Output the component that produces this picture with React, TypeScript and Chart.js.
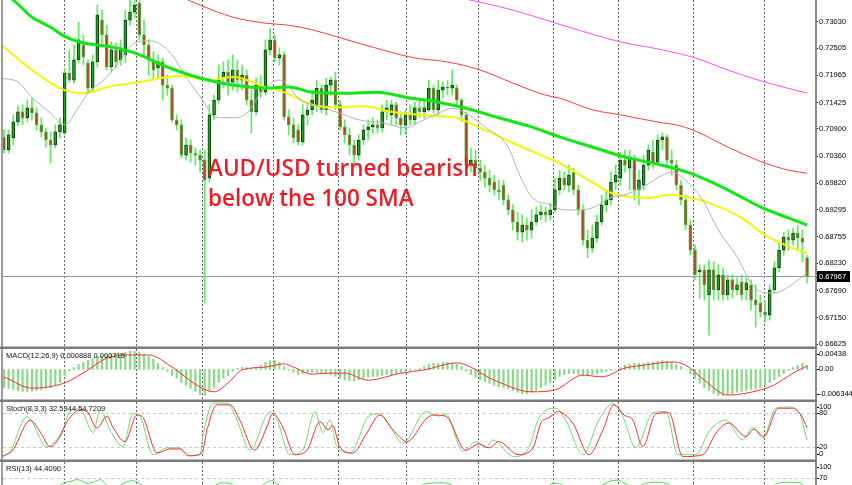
import React, { useEffect, useRef } from 'react';
import { Chart, registerables } from 'chart.js';

Chart.register(...registerables);

// ---------------- DATA ----------------
const opens = [
  0.7074,0.7048,0.7072,0.7104,0.7124,0.7112,0.7132,0.7122,0.7098,0.7084,
  0.7068,0.7058,0.7084,0.7082,0.7201,0.7187,0.7227,0.7257,0.7221,0.7171,
  0.7223,0.7306,0.7277,0.7213,0.7247,0.7227,0.7237,0.7306,0.7322,0.7340,
  0.7277,0.7257,0.7227,0.7211,0.7223,0.7177,0.7171,0.7108,0.7098,0.7038,
  0.7058,0.7042,0.7038,0.7028,0.6992,0.7118,0.7147,0.7191,0.7203,0.7183,
  0.7207,0.7187,0.7197,0.7147,0.7124,0.7177,0.7163,0.7247,0.7267,0.7231,
  0.7237,0.7114,0.7098,0.7088,0.7064,0.7118,0.7128,0.7138,0.7171,0.7128,
  0.7177,0.7187,0.7138,0.7094,0.7078,0.7058,0.7038,0.7068,0.7088,0.7094,
  0.7098,0.7092,0.7124,0.7118,0.7138,0.7112,0.7098,0.7118,0.7108,0.7132,
  0.7124,0.7128,0.7171,0.7128,0.7167,0.7173,0.7171,0.7171,0.7147,0.7118,
  0.7018,0.7028,0.7012,0.7004,0.6992,0.6984,0.6969,0.6978,0.6949,0.6929,
  0.6905,0.6885,0.6899,0.6889,0.6905,0.6919,0.6925,0.6919,0.6929,0.6969,
  0.6992,0.6978,0.7004,0.6969,0.6929,0.6869,0.6853,0.6873,0.6905,0.6939,
  0.6949,0.6984,0.6992,0.7028,0.7012,0.7028,0.6969,0.6978,0.7018,0.7044,
  0.7024,0.7068,0.7074,0.7028,0.7018,0.6978,0.6949,0.6899,0.6849,0.6806,
  0.6810,0.6760,0.6810,0.6770,0.6800,0.6760,0.6790,0.6770,0.6786,0.6770,
  0.6780,0.6750,0.6744,0.6726,0.6720,0.6770,0.6814,0.6849,0.6875,0.6869,
  0.6883,0.6873,0.6834,
];
const closes = [
  0.7048,0.7078,0.7104,0.7124,0.7112,0.7132,0.7122,0.7098,0.7084,0.7068,
  0.7058,0.7084,0.7098,0.7201,0.7187,0.7227,0.7267,0.7233,0.7171,0.7223,
  0.7316,0.7277,0.7213,0.7247,0.7223,0.7251,0.7306,0.7322,0.7336,0.7277,
  0.7257,0.7227,0.7207,0.7223,0.7177,0.7171,0.7108,0.7098,0.7038,0.7058,
  0.7042,0.7038,0.7028,0.6988,0.7118,0.7147,0.7191,0.7203,0.7183,0.7207,
  0.7187,0.7197,0.7147,0.7124,0.7177,0.7163,0.7247,0.7267,0.7231,0.7237,
  0.7114,0.7098,0.7072,0.7064,0.7118,0.7128,0.7147,0.7171,0.7128,0.7177,
  0.7187,0.7138,0.7094,0.7078,0.7058,0.7038,0.7068,0.7088,0.7094,0.7098,
  0.7092,0.7124,0.7132,0.7138,0.7112,0.7098,0.7118,0.7108,0.7132,0.7124,
  0.7132,0.7171,0.7128,0.7167,0.7173,0.7171,0.7177,0.7147,0.7118,0.7018,
  0.7028,0.7012,0.7004,0.6992,0.6978,0.6969,0.6965,0.6949,0.6929,0.6905,
  0.6885,0.6899,0.6889,0.6905,0.6919,0.6925,0.6919,0.6929,0.6969,0.6992,
  0.6978,0.6998,0.6969,0.6929,0.6869,0.6853,0.6873,0.6905,0.6939,0.6949,
  0.6984,0.6998,0.7028,0.7018,0.7032,0.6969,0.6988,0.7018,0.7048,0.7024,
  0.7068,0.7074,0.7028,0.7022,0.6978,0.6949,0.6899,0.6849,0.6800,0.6810,
  0.6780,0.6810,0.6770,0.6800,0.6760,0.6790,0.6770,0.6780,0.6760,0.6784,
  0.6750,0.6740,0.6726,0.6720,0.6770,0.6814,0.6849,0.6875,0.6869,0.6883,
  0.6873,0.6865,0.67967,
];
const highs = [
  0.7088,0.7088,0.7118,0.7136,0.7138,0.7147,0.7151,0.7132,0.7112,0.7092,
  0.7084,0.7098,0.7112,0.7211,0.7247,0.7257,0.7302,0.7277,0.7227,0.7237,
  0.7336,0.7326,0.7296,0.7263,0.7261,0.7267,0.7326,0.7346,0.7356,0.7352,
  0.7306,0.7267,0.7243,0.7237,0.7231,0.7197,0.7177,0.7118,0.7108,0.7072,
  0.7068,0.7052,0.7048,0.7048,0.7138,0.7157,0.7217,0.7223,0.7227,0.7237,
  0.7227,0.7217,0.7207,0.7167,0.7191,0.7197,0.7267,0.7290,0.7277,0.7251,
  0.7243,0.7128,0.7112,0.7098,0.7138,0.7138,0.7167,0.7187,0.7177,0.7191,
  0.7193,0.7203,0.7147,0.7108,0.7092,0.7068,0.7078,0.7098,0.7108,0.7112,
  0.7108,0.7138,0.7147,0.7147,0.7143,0.7124,0.7128,0.7138,0.7143,0.7147,
  0.7147,0.7187,0.7177,0.7187,0.7183,0.7187,0.7207,0.7177,0.7151,0.7124,
  0.7052,0.7048,0.7028,0.7018,0.7008,0.6998,0.6988,0.6988,0.6959,0.6939,
  0.6925,0.6919,0.6913,0.6929,0.6935,0.6939,0.6935,0.6943,0.6992,0.7008,
  0.7004,0.7018,0.7012,0.6978,0.6939,0.6889,0.6899,0.6919,0.6959,0.6969,
  0.7004,0.7018,0.7044,0.7048,0.7048,0.7038,0.7008,0.7038,0.7058,0.7068,
  0.7078,0.7082,0.7078,0.7048,0.7028,0.6988,0.6959,0.6909,0.6859,0.6820,
  0.6820,0.6830,0.6826,0.6820,0.6814,0.6800,0.6800,0.6794,0.6800,0.6794,
  0.6790,0.6780,0.6760,0.6750,0.6780,0.6826,0.6865,0.6885,0.6889,0.6893,
  0.6899,0.6889,0.6839,
];
const lows = [
  0.7042,0.7042,0.7058,0.7096,0.7098,0.7104,0.7108,0.7088,0.7074,0.7054,
  0.7022,0.7052,0.7072,0.7078,0.7183,0.7181,0.7221,0.7217,0.7163,0.7163,
  0.7213,0.7257,0.7207,0.7203,0.7211,0.7217,0.7221,0.7296,0.7310,0.7267,
  0.7237,0.7197,0.7187,0.7191,0.7147,0.7157,0.7104,0.7088,0.7032,0.7028,
  0.7024,0.7018,0.7004,0.6744,0.6984,0.7108,0.7141,0.7171,0.7157,0.7167,
  0.7163,0.7167,0.7138,0.7082,0.7118,0.7153,0.7157,0.7237,0.7223,0.7217,
  0.7108,0.7078,0.7062,0.7058,0.7058,0.7098,0.7118,0.7124,0.7122,0.7118,
  0.7157,0.7128,0.7088,0.7062,0.7038,0.7018,0.7028,0.7058,0.7068,0.7082,
  0.7082,0.7084,0.7108,0.7098,0.7098,0.7078,0.7078,0.7098,0.7098,0.7112,
  0.7112,0.7124,0.7122,0.7118,0.7151,0.7157,0.7157,0.7138,0.7104,0.6998,
  0.7004,0.6998,0.6988,0.6974,0.6965,0.6959,0.6949,0.6939,0.6919,0.6889,
  0.6869,0.6865,0.6869,0.6873,0.6899,0.6909,0.6905,0.6909,0.6925,0.6959,
  0.6969,0.6965,0.6959,0.6919,0.6859,0.6834,0.6845,0.6865,0.6899,0.6925,
  0.6939,0.6969,0.6978,0.7004,0.6969,0.6949,0.6939,0.6969,0.7008,0.7012,
  0.7018,0.7048,0.7018,0.6998,0.6969,0.6939,0.6889,0.6839,0.6790,0.6754,
  0.6750,0.6680,0.6750,0.6750,0.6750,0.6750,0.6754,0.6760,0.6750,0.6750,
  0.6730,0.6696,0.6716,0.6706,0.6710,0.6764,0.6806,0.6839,0.6849,0.6859,
  0.6849,0.6826,0.6784,
];
const lastPrice = 0.67967;
const priceTicks = [0.73030,0.72505,0.71965,0.71425,0.70900,0.70360,0.69820,0.69295,0.68755,0.68230,0.67690,0.67150,0.66625];
const priceMin = 0.66586;
const priceMax = 0.73461;

// bar positions of the vertical (time) grid lines
const gridBars = [12.85, 28.3, 42.4, 57.6, 71.5, 86.1, 101.5, 117.6, 131.5, 147.5, 162.7];

// moving averages (bar index, price)
const sma100Bars = [-1,2,6,10,13,17,23,28,35,42,49,56,61,66,73,80,86,93,99,106,113,119,126,133,140,147,155,162,168,172];
const sma100Vals = [0.7362,0.7346,0.7312,0.7292,0.7274,0.7261,0.7253,0.7241,0.7213,0.7191,0.7177,0.7171,0.7173,0.7163,0.7161,0.7163,0.7153,0.7143,0.7131,0.7112,0.7094,0.7074,0.7054,0.7034,0.7020,0.7002,0.6969,0.6935,0.6913,0.6899];
const sma50Bars = [-1,6,13,17,23,29,35,38,44,49,56,60,66,71,77,83,89,95,97,102,109,116,119,126,130,134,138,143,146,151,158,163,169,172];
const sma50Vals = [0.7261,0.7207,0.7167,0.7161,0.7175,0.7183,0.7193,0.7195,0.7187,0.7193,0.7173,0.7163,0.7138,0.7133,0.7135,0.7124,0.7118,0.7114,0.7112,0.7092,0.7062,0.7034,0.7022,0.6984,0.6963,0.6955,0.6953,0.6959,0.6955,0.6943,0.6913,0.6879,0.6853,0.6843];
const sma20Bars = [-1,3,6,10,13,16,18,22,25,28,31,33,36,39,43,45,49,52,55,59,61,63,68,72,76,81,86,89,93,96,99,103,108,110,111,113,117,120,123,126,130,133,137,141,143,146,150,153,157,160,163,165,168,172];
const sma20Vals = [0.7191,0.7183,0.7153,0.7121,0.7098,0.7133,0.7161,0.7193,0.7227,0.7261,0.7265,0.7261,0.7237,0.7193,0.7141,0.7114,0.7112,0.7121,0.7161,0.7187,0.7175,0.7151,0.7133,0.7121,0.7108,0.7102,0.7092,0.7104,0.7121,0.7131,0.7121,0.7094,0.7054,0.7008,0.6988,0.6955,0.6939,0.6929,0.6929,0.6933,0.6953,0.6959,0.6975,0.6998,0.7004,0.6988,0.6943,0.6889,0.6836,0.6784,0.6764,0.6764,0.6776,0.6804];
const sma200Bars = [38,42,49,56,61,66,72,81,88,95,102,109,116,119,126,132,141,144,148,155,163,168,172];
const sma200Vals = [0.7352,0.7336,0.7312,0.7300,0.7296,0.7287,0.7271,0.7247,0.7231,0.7223,0.7207,0.7181,0.7157,0.7151,0.7128,0.7118,0.7102,0.7098,0.7086,0.7054,0.7022,0.7008,0.7002];
const sma400Bars = [98,109,121,132,141,148,155,163,172];
const sma400Vals = [0.7350,0.7326,0.7292,0.7263,0.7247,0.7231,0.7207,0.7183,0.7161];

// MACD
const macdHist = [
  -0.0039,-0.0041,-0.0043,-0.0045,-0.0047,-0.0047,-0.0047,-0.0045,-0.0043,-0.0041,
  -0.0039,-0.0034,-0.0028,-0.0013,-0.0004,0.0004,0.0011,0.0015,0.0019,0.0024,
  0.0028,0.0030,0.0032,0.0032,0.0034,0.0034,0.0037,0.0039,0.0039,0.0037,
  0.0032,0.0028,0.0022,0.0013,0.0004,-0.0004,-0.0013,-0.0019,-0.0028,-0.0034,
  -0.0041,-0.0047,-0.0054,-0.0056,-0.0047,-0.0039,-0.0028,-0.0019,-0.0013,-0.0004,
  0.0002,0.0004,0.0004,0.0002,0.0004,0.0009,0.0015,0.0019,0.0019,0.0015,
  0.0006,-0.0002,-0.0006,-0.0011,-0.0009,-0.0006,-0.0006,-0.0006,-0.0009,-0.0009,
  -0.0011,-0.0015,-0.0019,-0.0022,-0.0024,-0.0024,-0.0022,-0.0019,-0.0017,-0.0015,
  -0.0015,-0.0013,-0.0011,-0.0011,-0.0009,-0.0006,-0.0004,-0.0002,0.0000,0.0002,
  0.0006,0.0011,0.0013,0.0013,0.0015,0.0015,0.0013,0.0011,0.0006,-0.0004,
  -0.0011,-0.0017,-0.0022,-0.0026,-0.0030,-0.0034,-0.0037,-0.0039,-0.0041,-0.0045,
  -0.0049,-0.0052,-0.0052,-0.0049,-0.0045,-0.0039,-0.0034,-0.0028,-0.0022,-0.0015,
  -0.0011,-0.0009,-0.0009,-0.0011,-0.0013,-0.0013,-0.0011,-0.0009,-0.0006,-0.0004,
  -0.0002,0.0000,0.0004,0.0009,0.0011,0.0013,0.0013,0.0013,0.0015,0.0015,
  0.0017,0.0019,0.0017,0.0015,0.0011,0.0006,0.0000,-0.0009,-0.0019,-0.0030,
  -0.0039,-0.0045,-0.0052,-0.0056,-0.0056,-0.0054,-0.0052,-0.0049,-0.0047,-0.0045,
  -0.0043,-0.0041,-0.0039,-0.0034,-0.0028,-0.0022,-0.0015,-0.0009,-0.0002,0.0004,
  0.0009,0.0013,0.000888,
];
const signalBars = [0,6,13,18,22,28,31,36,42,45,48,51,56,60,62,66,70,73,78,85,90,97,105,113,118,124,128,133,137,143,146,150,155,162,165,169,172];
const signalVals = [-0.0016,-0.0040,-0.0029,-0.0001,0.0024,0.0031,0.0031,0.0005,-0.0038,-0.0048,-0.0029,-0.0001,0.0005,0.0012,0.0005,-0.0010,-0.0008,-0.0008,-0.0023,-0.0008,-0.0001,0.0014,-0.0023,-0.0048,-0.0044,-0.0012,-0.0016,0.0003,0.0009,0.0016,0.0009,-0.0023,-0.0055,-0.0044,-0.0033,-0.0008,0.000715];
const macdMax = 0.00438;
const macdMin = -0.006344;

// Stochastic
const stochKBars = [-0.9,1.3,4.9,9.2,12.6,14.1,16.3,19.1,20.6,22.7,25.5,27.6,29.1,31.9,34.9,37.7,39.2,42,42.6,44.8,47.8,49.9,52.7,57,58.5,61.2,64,66.6,68.3,69.8,71.3,74.1,78.4,80.5,83.1,85.4,90.4,93.1,94.6,98.3,101.1,103.2,104.7,109.2,112.4,114.6,118.2,120.3,124,127.4,130.4,132.5,135.3,139,141.8,144.3,148.2,151,154.6,158.2,160.4,162.5,165.3,168.1,170.2,172];
const stochKVals = [2,12,74,21,51,83,88,46,86,51,21,79,75,7,19,19,5,7,39,98,98,68,15,83,68,7,15,83,46,68,21,10,77,79,51,27,83,75,79,13,30,19,33,3.5,19,72,89,68,7,68,97,75,19,81,83,7,7,48,68,33,55,36,89,91,83,32.6];
const stochDBars = [-0.4,1.9,5.6,7.7,9.9,12,13.5,16.3,17.8,19.9,22.1,23.3,25.9,28.5,29.8,32.8,35.5,37.7,39.8,42.4,43.5,45.6,48.4,50.5,53.7,56.3,57.6,59.7,62.3,64.9,67.7,69.4,70.4,71.9,74.7,77.7,80.5,83.3,86.3,90.4,91.9,94.6,98.9,101.7,103.9,106,110.1,113.3,115,116.7,118.6,121.8,125.3,128.3,130.6,132.8,134.7,136.8,139.6,142.4,145.4,149.7,152.5,155.2,158.9,160.6,162.7,165.9,168.9,170.7,172];
const stochDVals = [3.5,15,68,48,21,39,65,86,83,54,75,56,30,77,72,10,17,17,5,10,51,95,95,68,15,56,80,56,7,15,65,51,59,21,10,45,77,51,30,70,77,75,15,26,19,30,7,19,63,72,83,63,7,51,95,77,68,21,79,81,3.5,7,45,63,39,52,39,89,89,77,54.7];

// RSI
const rsiBars = [0,11,12.6,14,15.8,17.8,20,20.6,22,23.8,26.3,27.6,29,30.6,42,45,46.7,48.4,50,55,56.5,57.4,58.7,61,74,89,90.8,93.4,95,97,106,116,117.6,119,121,127.6,129.8,131.5,133,135,137.4,139.6,141.8,143.9,153,164,165.7,168.3,170.5,172];
const rsiVals = [45,50,60,63,67,60,65,67,57,52,63,65,60,50,35,55,61,60,52,55,63,65,58,48,40,55,60,61,60,52,30,50,60,59,50,55,64,66,60,52,60,62,60,50,30,50,60,62,61,44.4];

// ---------------- LAYOUT / STYLE ----------------
const W = 852;
const H = 485;
const AXIS_W = 37;
const LEFT = 3;
const X_MIN = -0.2;
const X_MAX = 173.7;
const FONT = '7.5px "Liberation Sans", Arial, sans-serif';

const xy = (xs: number[], ys: number[]) => xs.map((x, k) => ({ x, y: ys[k] }));

const vGridPlugin = {
  id: 'vgrid',
  beforeDatasetsDraw(chart: any) {
    const { ctx, chartArea, scales } = chart;
    ctx.save();
    ctx.strokeStyle = '#626262';
    ctx.lineWidth = 1;
    ctx.setLineDash([2, 2]);
    gridBars.forEach((v) => {
      const px = Math.round(scales.x.getPixelForValue(v)) + 0.5;
      ctx.beginPath();
      ctx.moveTo(px, chartArea.top);
      ctx.lineTo(px, chartArea.bottom);
      ctx.stroke();
    });
    ctx.restore();
  },
};

const mainPlugin = {
  id: 'mainDecor',
  beforeDatasetsDraw(chart: any) {
    const { ctx, chartArea, scales } = chart;
    const py = Math.round(scales.y.getPixelForValue(lastPrice)) + 0.5;
    ctx.save();
    ctx.strokeStyle = '#8d9db1';
    ctx.lineWidth = 1;
    ctx.beginPath();
    ctx.moveTo(chartArea.left, py);
    ctx.lineTo(chartArea.right, py);
    ctx.stroke();
    ctx.restore();
  },
  afterDraw(chart: any) {
    const { ctx, chartArea, scales } = chart;
    ctx.save();
    ctx.fillStyle = '#9c9c9c';
    ctx.fillRect(1, 0, 2, H);
    ctx.fillStyle = '#8a8a8a';
    ctx.fillRect(chartArea.right, 0, 2, H);
    const py = scales.y.getPixelForValue(lastPrice);
    ctx.fillStyle = '#000';
    ctx.fillRect(chartArea.right + 2, py - 5.5, 33, 11);
    ctx.fillStyle = '#fff';
    ctx.font = FONT;
    ctx.textBaseline = 'middle';
    ctx.textAlign = 'left';
    ctx.fillText(lastPrice.toFixed(5), chartArea.right + 4, py + 0.5);
    ctx.restore();
  },
};

const panePlugin = {
  id: 'pane',
  beforeDatasetsDraw(chart: any, _a: any, o: any) {
    const { ctx, chartArea, scales } = chart;
    ctx.save();
    ctx.strokeStyle = '#c6c6c6';
    ctx.lineWidth = 1;
    ctx.setLineDash([3, 3]);
    (o.levels || []).forEach((lv: number) => {
      const py = Math.round(scales.y.getPixelForValue(lv)) + 0.5;
      ctx.beginPath();
      ctx.moveTo(chartArea.left, py);
      ctx.lineTo(chartArea.right, py);
      ctx.stroke();
    });
    ctx.restore();
  },
  afterDraw(chart: any, _a: any, o: any) {
    const { ctx, chartArea, scales } = chart;
    const { left, right, top, bottom } = chartArea;
    ctx.save();
    ctx.fillStyle = '#7a7a7a';
    ctx.fillRect(0, top - 2.5, right + 2, 2.5);
    ctx.font = FONT;
    ctx.textBaseline = 'middle';
    ctx.textAlign = 'left';
    ctx.fillStyle = '#111';
    ctx.fillText(o.title, left + 3, top + 6.5);
    ctx.fillStyle = '#000';
    (o.labels || []).forEach((l: any) => {
      let py = scales.y.getPixelForValue(l.v);
      py = Math.min(Math.max(py, top + 4.5), bottom - 5);
      ctx.fillRect(right + 2, Math.round(py), 2, 1);
      ctx.fillText(l.t, right + 4, py);
    });
    ctx.restore();
  },
};

const xScale = { type: 'linear', min: X_MIN, max: X_MAX, display: false, offset: false };

function lineDs(label: string, data: any[], color: string, width: number, order = 1) {
  return {
    type: 'line',
    label,
    data,
    borderColor: color,
    borderWidth: width,
    pointRadius: 0,
    cubicInterpolationMode: 'monotone',
    fill: false,
    order,
  };
}

export default function App() {
  const mainRef = useRef<HTMLCanvasElement>(null);
  const macdRef = useRef<HTMLCanvasElement>(null);
  const stochRef = useRef<HTMLCanvasElement>(null);
  const rsiRef = useRef<HTMLCanvasElement>(null);

  useEffect(() => {
    const charts: Chart[] = [];
    const bull = closes.map((c, i) => c >= opens[i]);

    charts.push(
      new Chart(mainRef.current as HTMLCanvasElement, {
        type: 'bar',
        data: {
          datasets: [
            lineDs('SMA 400', xy(sma400Bars, sma400Vals), '#ff4cff', 1, 1),
            lineDs('SMA 200', xy(sma200Bars, sma200Vals), '#ff3a3a', 1, 1),
            lineDs('SMA 20', xy(sma20Bars, sma20Vals), '#b2b2b2', 1, 1),
            lineDs('SMA 50', xy(sma50Bars, sma50Vals), '#f5f500', 2, 1),
            lineDs('SMA 100', xy(sma100Bars, sma100Vals), '#14e614', 3, 0),
            {
              type: 'bar',
              label: 'Body',
              data: opens.map((o, i) => ({ x: i, y: [o, closes[i]] })),
              backgroundColor: bull.map((b) => (b ? '#18a818' : '#b4471d')),
              borderColor: bull.map((b) => (b ? '#0b3a0b' : '#48b048')),
              borderWidth: 1,
              borderSkipped: false,
              barThickness: 3,
              grouped: false,
              order: 3,
            },
            {
              type: 'bar',
              label: 'Wick',
              data: lows.map((l, i) => ({ x: i, y: [l, highs[i]] })),
              backgroundColor: '#5ced5c',
              barThickness: 1,
              grouped: false,
              order: 4,
            },
          ] as any,
        },
        options: {
          animation: false,
          responsive: false,
          maintainAspectRatio: false,
          devicePixelRatio: 1,
          layout: { padding: { left: LEFT, right: 0, top: 0, bottom: H - 346 } },
          plugins: { legend: { display: false }, tooltip: { enabled: false } },
          scales: {
            x: xScale as any,
            y: {
              position: 'right',
              min: priceMin,
              max: priceMax,
              afterBuildTicks: (s: any) => {
                s.ticks = priceTicks.map((value) => ({ value }));
              },
              afterFit: (s: any) => {
                s.width = AXIS_W;
                s.paddingTop = 0;
                s.paddingBottom = 0;
              },
              ticks: {
                autoSkip: false,
                padding: 1,
                color: '#000',
                font: { family: '"Liberation Sans", Arial, sans-serif', size: 7.5 },
                callback: (v: any) => Number(v).toFixed(5),
              },
              grid: { display: true, drawOnChartArea: false, drawTicks: true, tickLength: 3, color: '#000' },
              border: { display: false },
            },
          },
        } as any,
        plugins: [vGridPlugin, mainPlugin],
      })
    );

    const subOptions = (top: number, bottom: number, min: number, max: number, pane: any) => ({
      animation: false,
      responsive: false,
      maintainAspectRatio: false,
      devicePixelRatio: 1,
      layout: { padding: { left: LEFT, right: AXIS_W, top, bottom: H - bottom } },
      plugins: { legend: { display: false }, tooltip: { enabled: false }, pane },
      scales: {
        x: xScale,
        y: { min, max, display: false },
      },
    });

    charts.push(
      new Chart(macdRef.current as HTMLCanvasElement, {
        type: 'bar',
        data: {
          datasets: [
            lineDs('Signal', xy(signalBars, signalVals), '#ff2b2b', 1, 0),
            {
              type: 'bar',
              label: 'MACD',
              data: macdHist.map((v, i) => ({ x: i, y: v })),
              backgroundColor: '#86da86',
              barThickness: 1.5,
              grouped: false,
              order: 2,
            },
          ] as any,
        },
        options: subOptions(349, 399, macdMin, macdMax, {
          title: 'MACD(12,26,9) 0.000888 0.000715',
          labels: [
            { v: macdMax, t: '0.00438' },
            { v: 0, t: '0.00' },
            { v: macdMin, t: '-0.006344' },
          ],
          levels: [],
        }) as any,
        plugins: [vGridPlugin, panePlugin],
      })
    );

    charts.push(
      new Chart(stochRef.current as HTMLCanvasElement, {
        type: 'line',
        data: {
          datasets: [
            lineDs('%D', xy(stochDBars, stochDVals), '#ff2b2b', 1, 1),
            lineDs('%K', xy(stochKBars, stochKVals), '#6fdc6f', 1, 2),
          ] as any,
        },
        options: subOptions(402, 458.6, 0, 100, {
          title: 'Stoch(8,3,3) 32.5944 54.7209',
          labels: [
            { v: 100, t: '100' },
            { v: 80, t: '80' },
            { v: 20, t: '20' },
            { v: 0, t: '0' },
          ],
          levels: [80, 20],
        }) as any,
        plugins: [vGridPlugin, panePlugin],
      })
    );

    charts.push(
      new Chart(rsiRef.current as HTMLCanvasElement, {
        type: 'line',
        data: {
          datasets: [lineDs('RSI', xy(rsiBars, rsiVals), '#4fd64f', 1, 1)] as any,
        },
        options: subOptions(462, 485, 56.9, 100, {
          title: 'RSI(13) 44.4090',
          labels: [
            { v: 100, t: '100' },
            { v: 70, t: '70' },
          ],
          levels: [70],
        }) as any,
        plugins: [vGridPlugin, panePlugin],
      })
    );

    return () => charts.forEach((c) => c.destroy());
  }, []);

  const cv: React.CSSProperties = { position: 'absolute', left: 0, top: 0, width: W, height: H };

  return (
    <div style={{ position: 'absolute', left: 0, top: 0, width: W, height: H, background: '#fff', overflow: 'hidden' }}>
      <canvas ref={mainRef} width={W} height={H} style={cv} />
      <canvas ref={macdRef} width={W} height={H} style={cv} />
      <canvas ref={stochRef} width={W} height={H} style={cv} />
      <canvas ref={rsiRef} width={W} height={H} style={cv} />
      <div
        style={{
          position: 'absolute',
          left: 208,
          top: 153,
          fontFamily: '"Open Sans", sans-serif',
          fontWeight: 600,
          fontSize: 22.5,
          lineHeight: '30px',
          color: '#ec1c24',
          whiteSpace: 'nowrap',
        }}
      >
        AUD/USD turned bearish
        <br />
        below the 100 SMA
      </div>
    </div>
  );
}
